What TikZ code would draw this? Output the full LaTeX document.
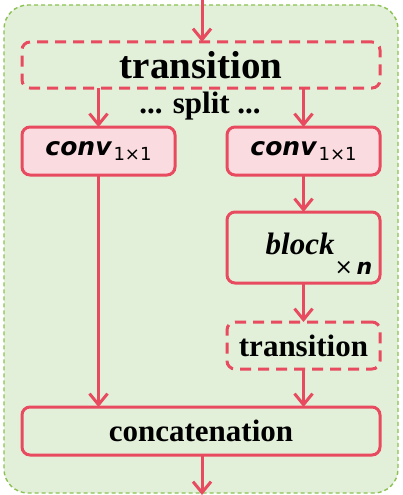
\documentclass[tikz,border=0pt]{standalone}
\usepackage{fontspec}
\setmainfont{Liberation Serif}
\newfontfamily\djv{DejaVu Sans}
\usetikzlibrary{arrows.meta}
\definecolor{myred}{HTML}{E84A5F}
\definecolor{mypink}{HTML}{FADBDF}
\definecolor{mygreen}{HTML}{E2F0D9}
\definecolor{mygreenline}{HTML}{8CC152}
\tikzset{
  box/.style={draw=myred, line width=3pt, rounded corners=8pt, fill=mygreen, inner sep=0pt, outer sep=0pt},
  dbox/.style={box, dash pattern=on 11pt off 7pt},
  pbox/.style={box, fill=mypink},
  arr/.style={draw=myred, line width=3pt, -{Straight Barb[length=11pt,width=18pt,line width=3pt]}},
  convtxt/.style={font=\djv\fontsize{25}{27}\selectfont\bfseries\itshape},
}
\newcommand{\subone}{\hspace{2pt}\raisebox{-5pt}{\fontsize{18}{20}\selectfont\mdseries\upshape 1×1}}
\begin{document}
\begin{tikzpicture}[x=1pt,y=-1pt]
\useasboundingbox (0,0) rectangle (403,495);
\node[draw=mygreenline, fill=mygreen, line width=1.4pt, dash pattern=on 4pt off 3pt, rounded corners=24pt, minimum width=394pt, minimum height=488pt, inner sep=0pt, outer sep=0pt] (frame) at (201,249) {};
% boxes
\node[dbox, minimum width=358pt, minimum height=46pt, font=\fontsize{39}{42}\selectfont\bfseries] (t1) at (201,65) {transition};
\node[font=\fontsize{31}{34}\selectfont\bfseries] (split) at (200,106) {... split ...};
\node[pbox, minimum width=153pt, minimum height=48pt, convtxt] (c1) at (98.5,151) {conv\subone};
\node[pbox, minimum width=153pt, minimum height=48pt, convtxt] (c2) at (303.5,151) {conv\subone};
\node[box, minimum width=153pt, minimum height=71pt] (blk) at (303.5,247.5) {};
\node[font=\fontsize{31}{33}\selectfont\bfseries\itshape] (blktxt) at (319,254) {block\raisebox{-20pt}{\djv\fontsize{22}{24}\selectfont\mdseries\upshape ×\,\bfseries\itshape n}};
\node[dbox, minimum width=153pt, minimum height=47pt, font=\fontsize{31}{34}\selectfont\bfseries] (t2) at (303.5,345.5) {transition};
\node[box, minimum width=358pt, minimum height=48pt, font=\fontsize{31}{34}\selectfont\bfseries] (cat) at (201,431) {concatenation};
% arrows
\coordinate (in) at (202,0);
\coordinate (out) at (202,495);
\draw[arr] (in) -- (in |- t1.north);
\draw[arr] (c1.north |- t1.south) -- (c1.north);
\draw[arr] (c2.north |- t1.south) -- (c2.north);
\draw[arr] (c2.south) -- (blk.north);
\draw[arr] (blk.south) -- (t2.north);
\draw[arr] (c1.south) -- (c1.south |- cat.north);
\draw[arr] (t2.south) -- (t2.south |- cat.north);
\draw[arr] (out |- cat.south) -- (out);
\end{tikzpicture}
\end{document}
